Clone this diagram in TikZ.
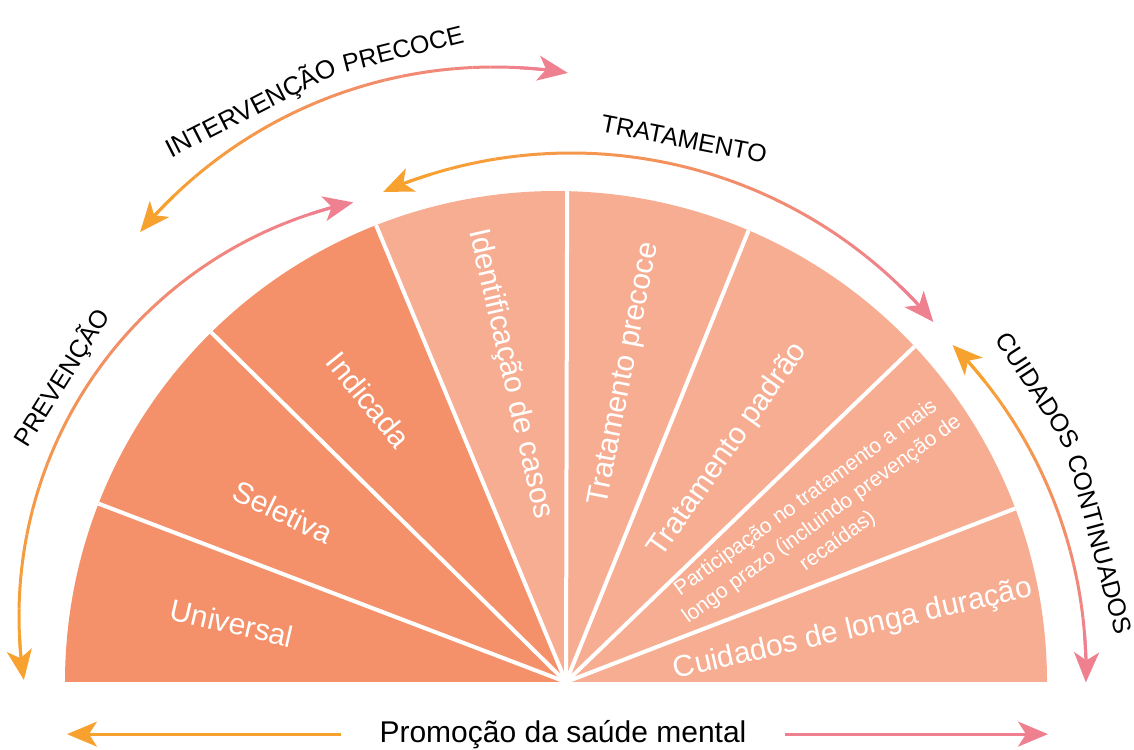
\documentclass[tikz,border=0pt]{standalone}
\usepackage{fontspec}
\setmainfont{Liberation Sans}
\usepackage{tikz}
\usetikzlibrary{arrows.meta,calc}
\usepackage{xcolor}

\definecolor{darkwedge}{HTML}{F4916A}
\definecolor{lightwedge}{HTML}{F7AD92}
\definecolor{orangearr}{HTML}{F7A12F}
\definecolor{pinkarr}{HTML}{EF8090}

% centre, radius, orange end, pink end
\newcommand\gradarc[4]{%
  \pgfmathsetmacro\arcstep{sign(#4-(#3))*3}
  \foreach \k in {0,...,23}{
    \pgfmathsetmacro\ga{#3+\arcstep+(#4-(#3)-2*\arcstep)*\k/24}
    \pgfmathsetmacro\gb{#3+\arcstep+(#4-(#3)-2*\arcstep)*(\k+1)/24}
    \pgfmathtruncatemacro\gp{100*\k/23}
    \draw[arcline, draw=pinkarr!\gp!orangearr] ($(#1)+(\ga:#2)$) arc[start angle=\ga, end angle=\gb, radius=#2];
  }
  \draw[arcline, orangearr, ->] ($(#1)+(#3+2*\arcstep:#2)$) arc[start angle=#3+2*\arcstep, end angle=#3, radius=#2];
  \draw[arcline, pinkarr, ->] ($(#1)+(#4-2*\arcstep:#2)$) arc[start angle=#4-2*\arcstep, end angle=#4, radius=#2];
}

\begin{document}
\begin{tikzpicture}[x=1pt, y=1pt,
    >={Stealth[length=30pt, width=25pt, inset=8pt]},
    spoke/.style={draw=white, line width=4pt},
    arcline/.style={line width=3pt},
    wlabel/.style={text=white, font=\fontsize{30}{36}\selectfont},
    blabel/.style={text=black, font=\fontsize{25}{30}\selectfont}
  ]
  \useasboundingbox (0,0) rectangle (1134,749);

  \coordinate (apex) at (566,67);
  \coordinate (disc) at (556,67);
  \fill[lightwedge] (apex) -- ($(disc)+(0:491)$) arc[start angle=0, end angle=111.5, radius=491] -- cycle;
  \fill[darkwedge] (apex) -- ($(disc)+(111.5:491)$) arc[start angle=111.5, end angle=180, radius=491] -- cycle;
  \foreach \a in {20.7,43.1,66.9,88.7,111.5,134.6,158.7}
    \draw[spoke] (apex) -- ($(disc)+(\a:491)$);

  \node[wlabel, rotate=-13] (univ) at (232,126) {Universal};
  \node[wlabel, rotate=-26] (selet) at (283,237) {Seletiva};
  \node[wlabel, rotate=-51] (indic) at (369,349) {Indicada};
  \node[wlabel, rotate=-77] (ident) at (510,375) {Identificação de casos};
  \node[wlabel, rotate=79] (tprec) at (625,375) {Tratamento precoce};
  \node[wlabel, rotate=55] (tpadr) at (728,299) {Tratamento padrão};
  \node[wlabel, rotate=36, align=center, font=\fontsize{21}{27}\selectfont] (partic) at (822,229)
    {Participação no tratamento a mais\\longo prazo (incluindo prevenção de\\recaídas)};
  \node[wlabel, rotate=13] (longa) at (853,119) {Cuidados de longa duração};

  \node[blabel, rotate=58] (prev) at (62,371) {PREVENÇÃO};
  \node[blabel, rotate=27, font=\fontsize{26}{30}\selectfont] (interv) at (251,641) {INTERVENÇÃO};
  \node[blabel, rotate=14] (precoce) at (403,700) {PRECOCE};
  \node[blabel, rotate=-11] (trat) at (684,610) {TRATAMENTO};
  \node[blabel, rotate=-57] (cuid) at (1038,359) {CUIDADOS};
  \node[blabel, rotate=-75] (contin) at (1100,205) {CONTINUADOS};

  \coordinate (prevc) at (442,133);
  \gradarc{prevc}{423}{188.7}{102.1}
  \coordinate (intc) at (494,220);
  \gradarc{intc}{462}{140}{80.8}
  \coordinate (tratc) at (571,123);
  \gradarc{tratc}{473}{113.4}{40}
  \coordinate (cuidc) at (621,78);
  \gradarc{cuidc}{465}{44.5}{-1.4}

  \node[text=black, font=\fontsize{30}{36}\selectfont, anchor=base, inner xsep=38pt] (promo) at (563,7) {Promoção da saúde mental};
  \coordinate (promoL) at (67,14);
  \coordinate (promoR) at (1048,14);
  \draw[arcline, orangearr, ->] (promo.west) -- (promo.west -| promoL);
  \draw[arcline, pinkarr, ->] (promo.east) -- (promo.east -| promoR);
\end{tikzpicture}
\end{document}
